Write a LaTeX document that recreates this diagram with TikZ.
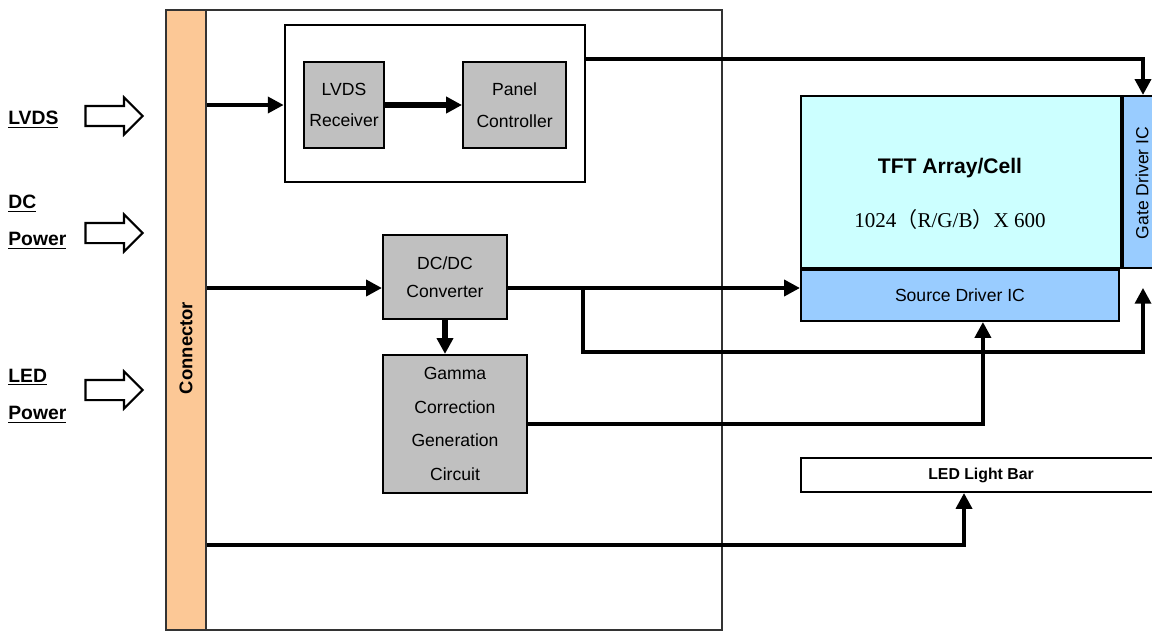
\documentclass[tikz,border=0pt]{standalone}
\usepackage{fontspec}
\setmainfont{Liberation Serif}
\setsansfont{Liberation Sans}
\newfontfamily\cjkfont{Noto Sans CJK SC}
\usepackage{xcolor}
\usepackage{tikz}
\usetikzlibrary{positioning,calc,shapes.arrows,arrows.meta}

\definecolor{connorange}{HTML}{FCC896}
\definecolor{blkgray}{HTML}{C0C0C0}
\definecolor{tftcyan}{HTML}{CCFFFF}
\definecolor{drvblue}{HTML}{99CCFF}

\tikzset{
	blk/.style={draw=black, line width=1.2pt, fill=blkgray, align=center, inner sep=0,
		font=\sffamily\fontsize{10}{18}\selectfont},
	drv/.style={draw=black, line width=1.1pt, fill=drvblue, inner sep=0,
		font=\sffamily\fontsize{10}{12}\selectfont},
	wire/.style={line width=2.2pt, -{Triangle[length=9pt,width=9pt]}},
	inarrow/.style={single arrow, draw=black, line width=1.2pt, fill=white, inner xsep=0, inner ysep=0.18cm,
		single arrow head extend=0.17cm, minimum height=1.14cm},
	inlbl/.style={anchor=west, align=left, inner sep=0,
		font=\sffamily\bfseries\fontsize{11}{21}\selectfont},
}

\begin{document}
\begin{tikzpicture}[x=0.02cm, y=-0.02cm]
	\useasboundingbox (0,0) rectangle (1152,632);
	\clip (0,0) rectangle (1152,632);

	\node[draw=black!80, line width=1.4pt, minimum width=11.12cm, minimum height=12.4cm, inner sep=0] (board) at (444,320) {};
	\node[draw=black!80, line width=1.2pt, fill=connorange, minimum width=0.8cm, minimum height=12.4cm, inner sep=0] (conn) at (186,320) {};
	\node[rotate=90, font=\sffamily\bfseries\fontsize{10.5}{12}\selectfont] (connlbl) at (186,348) {Connector};

	\node[inlbl] (lvdsin) at (8,120) {\underline{LVDS}};
	\node[inlbl] (dcin) at (8,222) {\underline{DC}\\\underline{Power}};
	\node[inlbl] (ledin) at (8,396) {\underline{LED}\\\underline{Power}};
	\node[inarrow] (lvdsarr) at (109,116) {};
	\node[inarrow] (dcarr) at (109,233) {};
	\node[inarrow] (ledarr) at (109,390) {};

	\node[draw=black, line width=1.5pt, minimum width=6cm, minimum height=3.14cm, inner sep=0] (grp) at (435,103.5) {};
	\node[blk, minimum width=1.6cm, minimum height=1.72cm] (rx) at (344,105) {LVDS\\Receiver};
	\node[blk, minimum width=2.06cm, minimum height=1.72cm, right=1.54cm of rx] (ctrl) {Panel\\Controller};
	\node[blk, minimum width=2.48cm, minimum height=1.68cm, font=\sffamily\fontsize{10}{16}\selectfont] (dcdc) at (445,277) {DC/DC\\Converter};
	\node[blk, minimum width=2.88cm, minimum height=2.76cm, font=\sffamily\fontsize{10}{19}\selectfont] (gamma) at (455,424) {Gamma\\Correction\\Generation\\Circuit};

	\node[draw=black, line width=1.2pt, fill=tftcyan, minimum width=6.4cm, minimum height=3.44cm, inner sep=0] (tft) at (961,182) {};
	\node[align=center, font=\fontsize{12}{31}\selectfont] (tfttxt) at (950,194) {{\sffamily\bfseries TFT Array/Cell}\\1024{\cjkfont （}R/G/B{\cjkfont ）}X 600};
	\node[drv, anchor=north west, minimum width=6.36cm, minimum height=1.02cm] (src) at (tft.south west) {Source Driver IC};
	\node[drv, anchor=north west, minimum width=0.8cm, minimum height=3.44cm] (gate) at (tft.north east) {};
	\node[rotate=90, font=\sffamily\fontsize{10}{12}\selectfont] (gatetxt) at (1142,183) {Gate Driver IC};
	\node[draw=black, line width=1.1pt, fill=white, minimum width=7.2cm, minimum height=0.68cm, inner sep=0,
		font=\sffamily\bfseries\fontsize{9}{11}\selectfont] (led) at (981,475) {LED Light Bar};

	\coordinate (pw) at (0,288);
	\coordinate (tap) at (583,288);
	\coordinate (lowbus) at (1143,352);
	\draw[wire] (conn.east |- rx) -- (grp.west |- rx);
	\draw[wire, line width=3.6pt] (rx) -- (ctrl);
	\draw[wire] (conn.east |- pw) -- (dcdc.west |- pw);
	\draw[wire] (dcdc.east |- pw) -- (src.west |- pw);
	\draw[wire, line width=3pt] (dcdc.south) -- (dcdc.south |- gamma.north);
	\draw[wire] (tap) |- (lowbus) -- ($(gate.south -| lowbus)+(0,19)$);
	\draw[wire] (gamma.east) -| ($(src.south)+(23,0)$);
	\draw[wire] ($(grp.north east)+(0,35)$) -| (gate.north);
	\draw[wire] (conn.east |- 0,545) -| ($(led.south)+(-17,0)$);
\end{tikzpicture}
\end{document}
